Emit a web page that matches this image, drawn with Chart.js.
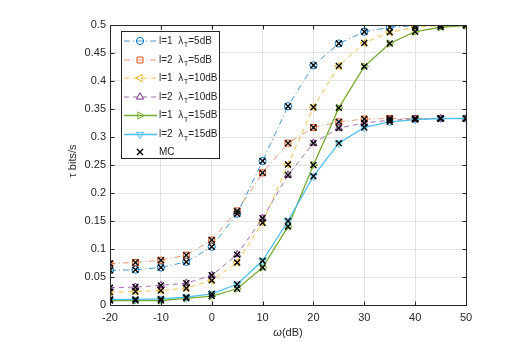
<!DOCTYPE html>
<html><head><meta charset="utf-8">
<script src="https://cdn.jsdelivr.net/npm/chart.js@4.4.1/dist/chart.umd.min.js"></script>
<style>html,body{margin:0;padding:0;background:#fff}#wrap{width:521px;height:358px;position:relative}</style>
</head><body><div id="wrap"><canvas id="c"></canvas></div>
<script>
const omega = [-20,-15,-10,-5,0,5,10,15,20,25,30,35,40,45,50];
const l1_5dB  = [0.062,0.063,0.067,0.077,0.104,0.163,0.257,0.355,0.428,0.467,0.488,0.496,0.499,0.500,0.500];
const l2_5dB  = [0.074,0.076,0.080,0.089,0.116,0.168,0.236,0.289,0.317,0.327,0.332,0.333,0.333,0.333,0.333];
const l1_10dB = [0.023,0.024,0.026,0.030,0.044,0.076,0.147,0.251,0.353,0.427,0.468,0.487,0.496,0.499,0.500];
const l2_10dB = [0.031,0.032,0.035,0.039,0.053,0.090,0.155,0.232,0.289,0.316,0.325,0.330,0.332,0.333,0.333];
const l1_15dB = [0.008,0.008,0.008,0.012,0.016,0.029,0.067,0.140,0.250,0.352,0.426,0.467,0.488,0.496,0.499];
const l2_15dB = [0.010,0.010,0.011,0.014,0.020,0.037,0.079,0.150,0.230,0.289,0.317,0.327,0.331,0.333,0.333];
const lValues = [1,2,1,2,1,2];
const lambdaValues = ['5dB','5dB','10dB','10dB','15dB','15dB'];
const mcLabel = 'MC';
const xTicks = [-20,-10,0,10,20,30,40,50];
const yTicks = [0,0.05,0.1,0.15,0.2,0.25,0.3,0.35,0.4,0.45,0.5];
const yTickLabels = ['0','0.05','0.1','0.15','0.2','0.25','0.3','0.35','0.4','0.45','0.5'];

const allSeries = [l1_5dB,l2_5dB,l1_10dB,l2_10dB,l1_15dB,l2_15dB];
const styles = [
  {color:'#0072BD', line:'rgba(0,114,189,0.75)', dash:[6,3,1,3], ps:'circle', rot:0, r:3.6, lw:1},
  {color:'#D95319', line:'rgba(217,83,25,0.6)', dash:[6,3,1,3], ps:'rect', rot:0, r:4.2, lw:1},
  {color:'#EDB120', line:'rgba(237,177,32,0.8)', dash:[5,4], ps:'triangle', rot:-90, r:4.2, lw:1},
  {color:'#7E2F8E', line:'rgba(126,47,142,0.7)', dash:[5,4], ps:'triangle', rot:0, r:4.2, lw:1},
  {color:'#77AC30', line:'#77AC30', dash:[], ps:'triangle', rot:90, r:4.2, lw:1.3},
  {color:'#4DBEEE', line:'#4DBEEE', dash:[], ps:'triangle', rot:180, r:4.2, lw:1.3}
];
const FONT = '"Liberation Sans", Arial, Helvetica, sans-serif';
const TXT = '#262626';

const datasets = allSeries.map((s,i)=>({
  label: 'l='+lValues[i]+' λT='+lambdaValues[i],
  data: s.map((v,k)=>({x:omega[k], y:v})),
  borderColor: styles[i].line,
  borderWidth: styles[i].lw,
  borderDash: styles[i].dash,
  pointStyle: styles[i].ps,
  rotation: styles[i].rot,
  pointRadius: styles[i].r,
  pointBorderColor: styles[i].color,
  pointBackgroundColor: 'rgba(0,0,0,0)',
  pointBorderWidth: 1,
  fill:false, tension:0,
  order: 10-i
}));
const mcData = [];
allSeries.forEach(s=>s.forEach((v,k)=>mcData.push({x:omega[k], y:v})));
datasets.push({
  label: mcLabel, data: mcData, showLine:false,
  pointStyle:'crossRot', pointRadius:4.2, pointBorderColor:'#000', pointBorderWidth:1.4,
  pointBackgroundColor:'#000', order:0
});

function drawMarker(ctx, st, x, y){
  ctx.save();
  ctx.translate(x,y);
  ctx.rotate(st.rot*Math.PI/180);
  ctx.strokeStyle = st.color; ctx.lineWidth = 1; ctx.setLineDash([]);
  ctx.beginPath();
  const r = st.r;
  if (st.ps==='circle'){ ctx.arc(0,0,r,0,Math.PI*2); }
  else if (st.ps==='rect'){ const s=r*Math.SQRT1_2; ctx.rect(-s,-s,2*s,2*s); }
  else if (st.ps==='triangle'){
    ctx.moveTo(0,-r); ctx.lineTo(r*Math.cos(Math.PI/6), r*0.5); ctx.lineTo(-r*Math.cos(Math.PI/6), r*0.5); ctx.closePath();
  }
  ctx.stroke();
  ctx.restore();
}

const decor = {
  id:'decor',
  afterDraw(chart){
    const {ctx, chartArea:a, scales:{x,y}} = chart;
    const L=Math.round(a.left)+0.5, R=Math.round(a.right)+0.5, T=Math.round(a.top)+0.5, B=Math.round(a.bottom)+0.5;
    ctx.save();
    ctx.strokeStyle=TXT; ctx.lineWidth=1; ctx.setLineDash([]);
    ctx.beginPath();
    ctx.rect(L,T,R-L,B-T);
    xTicks.forEach(v=>{ const p=Math.round(x.getPixelForValue(v))+0.5; ctx.moveTo(p,B); ctx.lineTo(p,B-4); ctx.moveTo(p,T); ctx.lineTo(p,T+4); });
    yTicks.forEach(v=>{ const p=Math.round(y.getPixelForValue(v))+0.5; ctx.moveTo(L,p); ctx.lineTo(L+4,p); ctx.moveTo(R,p); ctx.lineTo(R-4,p); });
    ctx.stroke();

    // axis titles
    ctx.fillStyle=TXT;
    ctx.textBaseline='middle';
    const cx=(a.left+a.right)/2;
    ctx.font='italic 11px '+FONT; const w1=ctx.measureText('ω').width;
    ctx.font='11px '+FONT; const w2=ctx.measureText('(dB)').width;
    let sx=cx-(w1+w2)/2;
    ctx.font='italic 11px '+FONT; ctx.textAlign='left'; ctx.fillText('ω',sx,333);
    ctx.font='11px '+FONT; ctx.fillText('(dB)',sx+w1,333);

    ctx.save();
    ctx.translate(73,161); ctx.rotate(-Math.PI/2);
    ctx.font='11px '+FONT; ctx.textAlign='center';
    ctx.fillText('τ bits/s',0,0);
    ctx.restore();

    // legend
    const bx=121.5, by=31.5, bw=98, bh=127;
    ctx.fillStyle='#fff'; ctx.fillRect(bx,by,bw,bh);
    ctx.strokeStyle=TXT; ctx.lineWidth=1; ctx.strokeRect(bx,by,bw,bh);
    const rowY=[41,60,78,97,115.5,134.5,152];
    styles.forEach((st,i)=>{
      const yy=rowY[i];
      ctx.save();
      ctx.strokeStyle=st.line; ctx.lineWidth=st.lw; ctx.setLineDash(st.dash);
      ctx.beginPath(); ctx.moveTo(124,yy); ctx.lineTo(157,yy); ctx.stroke();
      ctx.restore();
      drawMarker(ctx, st, 140, yy);
      ctx.fillStyle=TXT; ctx.textAlign='left'; ctx.textBaseline='middle';
      ctx.font='10px '+FONT;
      let tx=159;
      const p1='l='+lValues[i]+'  λ';
      ctx.fillText(p1,tx,yy); tx+=ctx.measureText(p1).width+0.5;
      ctx.font='7.5px '+FONT; ctx.fillText('T',tx,yy+4); tx+=ctx.measureText('T').width;
      ctx.font='10px '+FONT; ctx.fillText('='+lambdaValues[i],tx,yy);
    });
    ctx.strokeStyle='#000'; ctx.lineWidth=1.4; ctx.setLineDash([]);
    const my=rowY[6]; ctx.beginPath(); ctx.moveTo(137,my-3); ctx.lineTo(143,my+3); ctx.moveTo(143,my-3); ctx.lineTo(137,my+3); ctx.stroke();
    ctx.fillStyle=TXT; ctx.font='10px '+FONT; ctx.textBaseline='middle'; ctx.fillText(mcLabel,159,my);
    ctx.restore();
  }
};

new Chart(document.getElementById('c'), {
  type:'line',
  data:{datasets},
  options:{
    responsive:true, maintainAspectRatio:false, animation:false,
    layout:{padding:{left:0,top:25,right:55,bottom:0}},
    plugins:{legend:{display:false}, tooltip:{enabled:false}},
    scales:{
      x:{type:'linear', min:-20, max:50,
        afterBuildTicks(s){ s.ticks = xTicks.map(v=>({value:v})); },
        afterFit(s){ s.height=53; },
        grid:{color:'#e3e3e3', drawTicks:false}, border:{display:false},
        ticks:{padding:6, color:TXT, font:{family:FONT,size:11}, maxRotation:0, callback:(v)=>String(v)}
      },
      y:{type:'linear', min:0, max:0.5,
        afterBuildTicks(s){ s.ticks = yTicks.map(v=>({value:v})); },
        afterFit(s){ s.width=110; },
        grid:{color:'#e3e3e3', drawTicks:false}, border:{display:false},
        ticks:{padding:4, color:TXT, font:{family:FONT,size:11}, callback:(v)=>{const i=yTicks.findIndex(t=>Math.abs(t-v)<1e-9); return i>=0?yTickLabels[i]:'';}}
      }
    }
  },
  plugins:[decor]
});
</script></body></html>
